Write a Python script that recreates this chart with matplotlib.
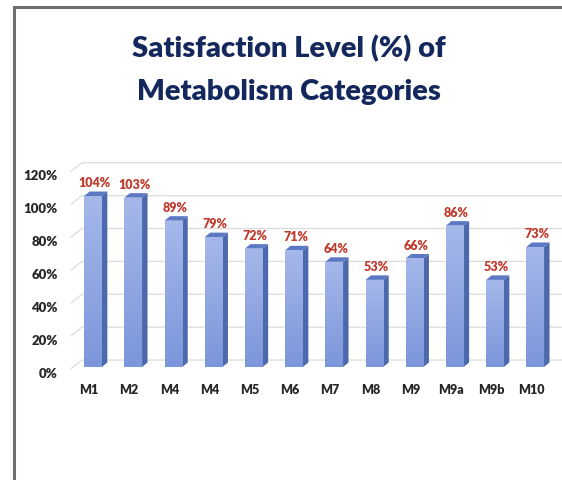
import matplotlib
matplotlib.use("Agg")
import matplotlib.pyplot as plt
import numpy as np
from matplotlib.patches import Polygon
from matplotlib.colors import LinearSegmentedColormap

plt.rcParams['font.family'] = ['Lato', 'DejaVu Sans']

categories = ["M1", "M2", "M4", "M4", "M5", "M6", "M7", "M8", "M9", "M9a", "M9b", "M10"]
values = [104, 103, 89, 79, 72, 71, 64, 53, 66, 86, 53, 73]
yticks = [0, 20, 40, 60, 80, 100, 120]
title_lines = ["Satisfaction Level (%) of", "Metabolism Categories"]

W, H = 562, 481
fig = plt.figure(figsize=(W / 100, H / 100), dpi=100)
fig.patch.set_facecolor("white")

# frame lines (slide border)
fig.add_artist(plt.Line2D([14 / W, 14 / W], [0, 1 - 8 / H], color="#6f6f73", lw=2.2))
fig.add_artist(plt.Line2D([14 / W, 1], [1 - 8 / H, 1 - 8 / H], color="#6f6f73", lw=2.2))

for line, ypx in zip(title_lines, [49, 92]):
    fig.text(289 / W, 1 - ypx / H, line, ha="center", va="center", fontsize=21,
             fontweight="heavy", color="#14285e")

# axes placement in pixels
x0_px, px_per_unit = 93, 40.2
left_px = 71
xlim = ((left_px - x0_px) / px_per_unit, (W - x0_px) / px_per_unit)
y0_px, px_per_pct = 368, 1.644
ax_bottom = (H - y0_px) / H
ax_height = 120 * px_per_pct / H
ax = fig.add_axes([left_px / W, ax_bottom, (W - left_px) / W, ax_height])
ax.set_xlim(*xlim)
ax.set_ylim(0, 120)
ax.set_axis_off()

x = np.arange(len(categories))
bw = 0.44
dx_u = 5.5 / px_per_unit
dy_u = 4.5 / px_per_pct

# gridlines with perspective diagonal on left
gdx = 11 / px_per_unit
gdy = 8.6 / px_per_pct
for t in yticks:
    ax.plot([xlim[0], xlim[0] + gdx, xlim[1]], [t - 1, t - 1 + gdy, t - 1 + gdy],
            color="#dcdcdc", lw=0.9, clip_on=False, zorder=0)
    ax.text(xlim[0] - 13 / px_per_unit, t - 3.5, f"{t}%", ha="right", va="center",
            fontsize=9.5, fontweight="heavy", color="#262626")

cmap = LinearSegmentedColormap.from_list("b", ["#7c96db", "#a6b8ea"])
grad = np.linspace(0, 1, 256).reshape(-1, 1)

bars = ax.bar(x, values, width=bw, color="#8fa6e2", edgecolor="none", zorder=3)
for b, v in zip(bars, values):
    xl = b.get_x()
    xr = xl + b.get_width()
    im = ax.imshow(grad, extent=[xl, xr, 0, v], origin="lower", cmap=cmap,
                   aspect="auto", zorder=3.5)
    im.set_clip_path(b)
    side = Polygon([[xr, 0], [xr + dx_u, dy_u], [xr + dx_u, v + dy_u], [xr, v]],
                   closed=True, facecolor="#4d69ad", edgecolor="none", zorder=3)
    ax.add_patch(side)
    cap = Polygon([[xl, v], [xl + dx_u, v + dy_u], [xr + dx_u, v + dy_u], [xr, v]],
                  closed=True, facecolor="#5b78c2", edgecolor="none", zorder=3)
    ax.add_patch(cap)
    ax.text(b.get_x() + b.get_width() / 2 + 0.04, v + 8.5, f"{v}%", ha="center",
            va="center", fontsize=9, fontweight="heavy", color="#c0392b", zorder=5)

ax.set_xlim(*xlim)
for xi, c in zip(x, categories):
    ax.text(xi - 0.1, -13.5, c, ha="center", va="center", fontsize=9,
            fontweight="heavy", color="#262626")

fig.savefig("out.png", dpi=100, facecolor="white")
